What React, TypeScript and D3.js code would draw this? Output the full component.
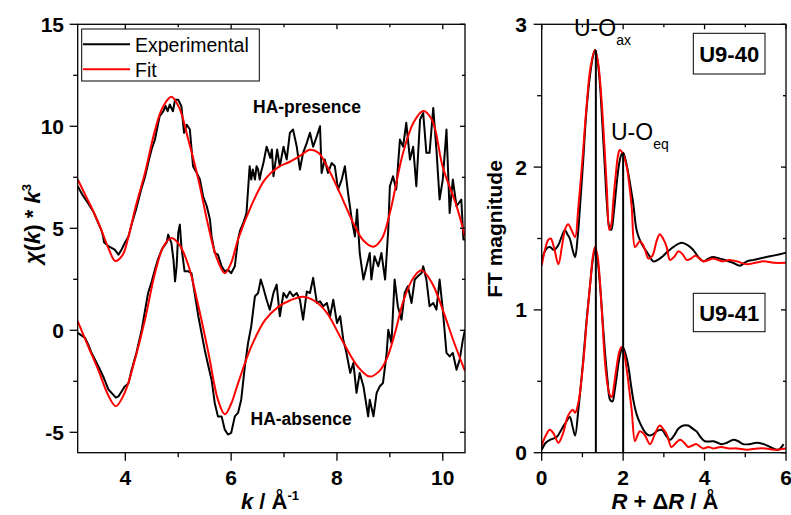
import React from 'react';
import * as d3 from 'd3';

type P = [number, number];

const kTicks = [4, 6, 8, 10];
const kMinor = [5, 7, 9];
const chiTicks = [-5, 0, 5, 10, 15];
const chiMinor = [-2.5, 2.5, 7.5, 12.5];
const rTicks = [0, 2, 4, 6];
const rMinor = [1, 3, 5];
const ftTicks = [0, 1, 2, 3];
const ftMinor = [0.5, 1.5, 2.5];

const presenceFit: P[] = [
  [3.1, 7.4], [3.25, 6.6], [3.4, 5.8], [3.55, 4.9], [3.7, 3.9], [3.81, 3.4], [3.95, 3.7], [4.06, 4.6],
  [4.2, 6.1], [4.37, 7.7], [4.56, 9.8], [4.7, 10.9], [4.87, 11.45], [5.02, 10.9], [5.19, 9.35], [5.38, 7.4],
  [5.57, 5.1], [5.72, 3.6], [5.88, 2.8], [6.0, 3.3], [6.13, 4.45], [6.38, 6.1], [6.64, 7.4], [6.89, 8.0],
  [7.1, 8.25], [7.3, 8.55], [7.49, 8.85], [7.65, 8.7], [7.8, 8.1], [8.06, 6.7], [8.31, 5.25], [8.5, 4.4],
  [8.69, 4.1], [8.85, 4.5], [9.0, 5.75], [9.25, 8.7], [9.45, 10.2], [9.63, 10.75], [9.8, 10.3], [10.0, 8.0],
  [10.26, 6.1], [10.42, 4.6],
];

const absenceFit: P[] = [
  [3.1, 0.45], [3.3, -0.8], [3.49, -1.95], [3.68, -3.2], [3.82, -3.72], [3.99, -3.05], [4.18, -1.45],
  [4.37, 0.5], [4.56, 2.8], [4.72, 4.1], [4.87, 4.52], [5.02, 4.2], [5.19, 3.2], [5.38, 1.2], [5.57, -1.1],
  [5.75, -3.4], [5.88, -4.12], [6.0, -3.6], [6.13, -2.6], [6.38, -0.8], [6.64, 0.5], [6.89, 1.15], [7.1, 1.45],
  [7.36, 1.65], [7.6, 1.4], [7.81, 0.85], [8.12, -0.6], [8.4, -1.8], [8.62, -2.27], [8.8, -2.0], [8.94, -1.4],
  [9.1, -0.1], [9.25, 1.4], [9.45, 2.6], [9.6, 2.94], [9.8, 2.3], [10.0, 1.0], [10.2, -0.5], [10.42, -2.0],
];

const presenceExp: P[] = [
  [3.1, 7.06], [3.2, 6.6], [3.29, 6.25], [3.4, 5.8], [3.49, 5.26], [3.55, 4.9], [3.58, 4.6], [3.6, 4.3],
  [3.65, 4.2], [3.68, 4.12], [3.74, 4.04], [3.8, 3.95], [3.87, 3.71], [3.93, 3.96], [3.99, 4.28], [4.06, 4.6],
  [4.12, 5.2], [4.2, 5.9], [4.3, 6.9], [4.37, 7.5], [4.45, 8.4], [4.5, 8.9], [4.56, 9.35], [4.61, 10.0],
  [4.65, 10.5], [4.72, 10.74], [4.76, 11.0], [4.8, 10.74], [4.84, 11.07], [4.9, 10.74], [4.94, 11.3], [5.0, 11.3],
  [5.06, 10.98], [5.11, 9.68], [5.16, 10.08], [5.22, 9.84], [5.28, 8.04], [5.35, 7.71], [5.41, 7.39], [5.47, 6.57],
  [5.54, 6.08], [5.6, 5.43], [5.63, 4.6], [5.69, 3.79], [5.75, 3.71], [5.82, 3.14], [5.88, 2.89], [5.94, 2.97],
  [6.0, 2.8], [6.07, 3.14], [6.13, 4.45], [6.17, 4.9], [6.23, 5.26], [6.29, 5.75], [6.32, 6.9], [6.35, 8.04],
  [6.38, 7.39], [6.41, 7.88], [6.45, 7.39], [6.48, 8.04], [6.51, 7.88], [6.54, 7.39], [6.57, 7.8], [6.61, 8.2],
  [6.67, 9.0], [6.7, 8.78], [6.74, 8.45], [6.77, 8.86], [6.8, 7.55], [6.87, 8.86], [6.92, 8.04], [6.99, 9.0],
  [7.05, 8.37], [7.11, 9.68], [7.17, 9.84], [7.24, 9.0], [7.3, 7.88], [7.36, 8.7], [7.43, 9.19], [7.49, 9.68],
  [7.55, 9.0], [7.62, 9.52], [7.68, 10.0], [7.71, 7.71], [7.77, 8.37], [7.83, 7.71], [7.9, 8.2], [7.96, 8.04],
  [8.02, 6.9], [8.09, 7.39], [8.15, 8.04], [8.21, 6.73], [8.28, 5.43], [8.34, 4.6], [8.38, 5.92], [8.43, 3.79],
  [8.5, 2.49], [8.56, 3.14], [8.62, 3.79], [8.65, 2.49], [8.71, 3.63], [8.78, 3.14], [8.84, 3.79], [8.91, 2.49],
  [8.97, 4.94], [9.0, 7.06], [9.06, 7.55], [9.12, 6.9], [9.19, 9.35], [9.25, 9.0], [9.31, 10.17], [9.38, 8.37],
  [9.44, 9.0], [9.5, 7.06], [9.57, 10.33], [9.63, 10.65], [9.69, 8.7], [9.75, 8.7], [9.82, 10.9], [9.88, 8.86],
  [9.94, 6.41], [10.0, 7.39], [10.07, 9.84], [10.13, 5.75], [10.19, 7.39], [10.26, 6.08], [10.35, 6.41],
  [10.39, 4.45], [10.42, 4.45],
];

const absenceExp: P[] = [
  [3.1, -0.13], [3.17, -0.25], [3.24, -0.37], [3.3, -0.7], [3.36, -1.1], [3.43, -1.45], [3.49, -1.76],
  [3.58, -2.25], [3.68, -2.9], [3.77, -3.15], [3.82, -3.3], [3.87, -3.24], [3.93, -3.0], [3.99, -2.75],
  [4.06, -2.6], [4.12, -1.93], [4.21, -1.1], [4.31, 0.03], [4.43, 1.83], [4.5, 2.4], [4.56, 2.98], [4.62, 3.5],
  [4.69, 3.96], [4.75, 4.2], [4.78, 4.3], [4.81, 4.69], [4.87, 4.28], [4.91, 3.47], [4.94, 2.4], [4.97, 3.14],
  [5.0, 4.77], [5.03, 5.18], [5.06, 4.1], [5.12, 2.89], [5.19, 2.89], [5.25, 2.8], [5.31, 1.83], [5.38, 0.69],
  [5.44, -0.13], [5.5, -0.95], [5.57, -1.76], [5.63, -2.42], [5.69, -3.56], [5.75, -4.22], [5.82, -4.22],
  [5.88, -4.87], [5.94, -5.11], [6.0, -5.03], [6.07, -4.22], [6.13, -4.05], [6.19, -3.4], [6.26, -1.76],
  [6.32, -0.62], [6.38, 0.2], [6.45, 1.67], [6.51, 1.83], [6.56, 2.49], [6.6, 2.16], [6.67, 1.5], [6.73, 1.01],
  [6.8, 1.83], [6.86, 2.24], [6.92, 0.69], [6.99, 1.83], [7.05, 1.6], [7.11, 1.9], [7.17, 1.67], [7.24, 1.83],
  [7.3, 1.5], [7.36, 0.52], [7.43, 1.9], [7.49, 1.83], [7.55, 2.57], [7.62, 1.34], [7.68, 1.42], [7.74, 1.18],
  [7.81, 1.34], [7.87, 0.69], [7.93, 1.5], [8.0, 0.36], [8.06, 0.69], [8.12, -0.46], [8.18, -1.11],
  [8.25, -2.09], [8.31, -1.6], [8.37, -3.07], [8.43, -2.09], [8.5, -2.74], [8.56, -3.73], [8.59, -4.22],
  [8.62, -3.4], [8.69, -4.22], [8.75, -3.07], [8.81, -2.74], [8.87, -2.58], [8.94, -1.11], [8.97, 0.03],
  [9.03, -0.62], [9.09, 2.49], [9.15, 1.18], [9.22, 0.52], [9.28, 1.83], [9.34, 2.16], [9.41, 1.34],
  [9.47, 2.49], [9.53, 2.65], [9.6, 2.81], [9.63, 3.14], [9.69, 2.49], [9.75, 1.18], [9.82, 1.34], [9.88, 1.01],
  [9.94, 2.49], [10.0, 1.01], [10.07, -1.11], [10.13, -1.28], [10.19, -1.11], [10.26, -1.93], [10.32, -1.44],
  [10.38, -0.46], [10.42, 0.03],
];

const u940Exp: P[] = [
  [0, 1.35], [0.12, 1.43], [0.2, 1.44], [0.3, 1.42], [0.4, 1.45], [0.5, 1.52], [0.57, 1.56], [0.63, 1.53],
  [0.69, 1.5], [0.76, 1.42], [0.82, 1.37], [0.88, 1.5], [0.94, 1.72], [1.02, 2.05], [1.1, 2.4], [1.19, 2.65],
  [1.27, 2.79], [1.31, 2.82], [1.37, 2.75], [1.43, 2.58], [1.49, 2.3], [1.55, 2.0], [1.6, 1.75], [1.66, 1.58],
  [1.71, 1.56], [1.77, 1.68], [1.84, 1.88], [1.9, 2.02], [1.96, 2.09], [2.0, 2.1], [2.06, 2.05], [2.13, 1.95],
  [2.19, 1.85], [2.25, 1.74], [2.33, 1.56], [2.41, 1.49], [2.5, 1.44], [2.62, 1.39], [2.74, 1.34], [2.85, 1.35],
  [2.95, 1.37], [3.1, 1.41], [3.23, 1.44], [3.44, 1.47], [3.6, 1.45], [3.72, 1.42], [3.85, 1.37], [3.97, 1.34],
  [4.1, 1.36], [4.21, 1.37], [4.36, 1.36], [4.5, 1.35], [4.7, 1.33], [4.87, 1.31], [5.04, 1.34], [5.2, 1.35],
  [5.36, 1.36], [5.52, 1.37], [5.69, 1.38], [5.85, 1.39], [6.0, 1.4],
];

const u940Fit: P[] = [
  [0, 1.31], [0.08, 1.42], [0.16, 1.49], [0.22, 1.5], [0.3, 1.44], [0.41, 1.32], [0.5, 1.45], [0.58, 1.57],
  [0.65, 1.6], [0.73, 1.56], [0.82, 1.51], [0.9, 1.72], [1.0, 2.05], [1.1, 2.42], [1.2, 2.7], [1.31, 2.82],
  [1.39, 2.72], [1.47, 2.47], [1.55, 2.1], [1.6, 1.85], [1.66, 1.56], [1.71, 1.6], [1.76, 1.77], [1.82, 1.95],
  [1.88, 2.09], [1.92, 2.12], [2.0, 2.09], [2.09, 2.0], [2.15, 1.88], [2.21, 1.72], [2.29, 1.44], [2.35, 1.46],
  [2.41, 1.48], [2.48, 1.46], [2.54, 1.42], [2.62, 1.36], [2.72, 1.38], [2.82, 1.48], [2.9, 1.53], [2.98, 1.5],
  [3.07, 1.44], [3.15, 1.35], [3.25, 1.37], [3.36, 1.41], [3.46, 1.39], [3.56, 1.35], [3.67, 1.36], [3.77, 1.38],
  [3.87, 1.36], [3.97, 1.34], [4.1, 1.35], [4.21, 1.36], [4.33, 1.35], [4.46, 1.34], [4.6, 1.35], [4.79, 1.34],
  [5.04, 1.32], [5.25, 1.33], [5.45, 1.34], [5.7, 1.33], [6.0, 1.33],
];

const u941Exp: P[] = [
  [0, 0.02], [0.1, 0.07], [0.2, 0.09], [0.37, 0.11], [0.5, 0.17], [0.61, 0.22], [0.69, 0.25], [0.76, 0.18],
  [0.82, 0.12], [0.9, 0.3], [1.02, 0.65], [1.1, 0.92], [1.19, 1.18], [1.26, 1.36], [1.31, 1.42], [1.37, 1.35],
  [1.43, 1.18], [1.49, 0.95], [1.55, 0.72], [1.62, 0.5], [1.68, 0.37], [1.74, 0.36], [1.79, 0.43], [1.84, 0.53],
  [1.92, 0.68], [1.99, 0.74], [2.06, 0.69], [2.13, 0.6], [2.19, 0.48], [2.25, 0.37], [2.33, 0.27], [2.41, 0.21],
  [2.5, 0.16], [2.58, 0.13], [2.66, 0.12], [2.74, 0.13], [2.82, 0.15], [2.95, 0.16], [3.05, 0.12], [3.15, 0.09],
  [3.25, 0.12], [3.36, 0.17], [3.48, 0.19], [3.6, 0.19], [3.7, 0.17], [3.8, 0.15], [3.9, 0.11], [4.01, 0.08],
  [4.21, 0.08], [4.32, 0.07], [4.42, 0.06], [4.55, 0.07], [4.71, 0.09], [4.83, 0.08], [4.95, 0.06], [5.1, 0.06],
  [5.28, 0.07], [5.45, 0.06], [5.61, 0.04], [5.81, 0.02], [5.94, 0.06],
];

const u941Fit: P[] = [
  [0, 0.05], [0.1, 0.12], [0.2, 0.16], [0.3, 0.13], [0.41, 0.07], [0.53, 0.14], [0.62, 0.24], [0.69, 0.28],
  [0.76, 0.3], [0.82, 0.28], [0.9, 0.35], [1.02, 0.63], [1.1, 0.9], [1.19, 1.18], [1.26, 1.38], [1.31, 1.44],
  [1.37, 1.38], [1.43, 1.2], [1.49, 0.93], [1.55, 0.65], [1.62, 0.47], [1.68, 0.4], [1.72, 0.39], [1.78, 0.48],
  [1.84, 0.6], [1.9, 0.7], [1.96, 0.74], [2.02, 0.7], [2.09, 0.58], [2.15, 0.44], [2.21, 0.3], [2.29, 0.08],
  [2.35, 0.12], [2.41, 0.15], [2.48, 0.14], [2.54, 0.12], [2.66, 0.06], [2.78, 0.13], [2.9, 0.19], [3.0, 0.16],
  [3.07, 0.13], [3.19, 0.04], [3.3, 0.07], [3.4, 0.09], [3.5, 0.07], [3.6, 0.04], [3.7, 0.05], [3.8, 0.06],
  [3.9, 0.04], [3.97, 0.03], [4.1, 0.04], [4.21, 0.03], [4.4, 0.04], [4.6, 0.03], [4.8, 0.03], [5.04, 0.02],
  [5.3, 0.03], [5.5, 0.03], [5.7, 0.02], [6.0, 0.03],
];

// marker lines: [R, peak height]
const shellMarkers: P[] = [[1.33, 2.82], [2.0, 2.1]];

const FONT = "'Liberation Sans', Arial, Helvetica, sans-serif";

export default function App() {
  const L = { x0: 77.7, x1: 465, y0: 24.3, y1: 452.7 };
  const Rp = { x0: 541.7, x1: 786, y0: 24.3, y1: 452.7 };
  const xk = d3.scaleLinear().domain([3.1, 10.42]).range([L.x0, L.x1]);
  const yc = d3.scaleLinear().domain([-6, 15]).range([L.y1, L.y0]);
  const xr = d3.scaleLinear().domain([0, 6]).range([Rp.x0, Rp.x1]);
  const yf = d3.scaleLinear().domain([0, 3]).range([Rp.y1, Rp.y0]);

  const lineKexp = d3.line<P>().x(d => xk(d[0])).y(d => yc(d[1]));
  const lineKfit = d3.line<P>().x(d => xk(d[0])).y(d => yc(d[1])).curve(d3.curveCatmullRom.alpha(0.5));
  const lineRexp = d3.line<P>().x(d => xr(d[0])).y(d => yf(d[1])).curve(d3.curveCatmullRom.alpha(0.5));
  const lineRfit = d3.line<P>().x(d => xr(d[0])).y(d => yf(d[1])).curve(d3.curveCatmullRom.alpha(0.5));

  const axisStroke = '#000';
  const tickLabel = { fontFamily: FONT, fontWeight: 700, fontSize: 21 } as React.CSSProperties;

  const frame = (p: typeof L) => (
    <rect x={p.x0} y={p.y0} width={p.x1 - p.x0} height={p.y1 - p.y0} fill="none" stroke={axisStroke} strokeWidth={1.3} />
  );

  const xTicks = (p: typeof L, sc: (v: number) => number, major: number[], minor: number[]) => (
    <g stroke={axisStroke} strokeWidth={1.3}>
      {major.map(v => <line key={'bM' + v} x1={sc(v)} x2={sc(v)} y1={p.y1} y2={p.y1 + 8} />)}
      {minor.map(v => <line key={'bm' + v} x1={sc(v)} x2={sc(v)} y1={p.y1} y2={p.y1 + 4.5} />)}
      {major.map(v => <line key={'tM' + v} x1={sc(v)} x2={sc(v)} y1={p.y0} y2={p.y0 + 5} />)}
      {minor.map(v => <line key={'tm' + v} x1={sc(v)} x2={sc(v)} y1={p.y0} y2={p.y0 + 3} />)}
    </g>
  );
  const yTicks = (p: typeof L, sc: (v: number) => number, major: number[], minor: number[]) => (
    <g stroke={axisStroke} strokeWidth={1.3}>
      {major.map(v => <line key={'lM' + v} y1={sc(v)} y2={sc(v)} x1={p.x0} x2={p.x0 - 8} />)}
      {minor.map(v => <line key={'lm' + v} y1={sc(v)} y2={sc(v)} x1={p.x0} x2={p.x0 - 4.5} />)}
      {major.map(v => <line key={'rM' + v} y1={sc(v)} y2={sc(v)} x1={p.x1} x2={p.x1 - 5} />)}
      {minor.map(v => <line key={'rm' + v} y1={sc(v)} y2={sc(v)} x1={p.x1} x2={p.x1 - 3} />)}
    </g>
  );

  return (
    <svg width={791} height={515} style={{ position: 'absolute', left: 0, top: 0, background: '#fff' }}>
      <defs>
        <clipPath id="clipL"><rect x={L.x0} y={L.y0} width={L.x1 - L.x0} height={L.y1 - L.y0} /></clipPath>
        <clipPath id="clipR"><rect x={Rp.x0} y={Rp.y0} width={Rp.x1 - Rp.x0} height={Rp.y1 - Rp.y0} /></clipPath>
      </defs>
      <rect x={0} y={0} width={791} height={515} fill="#fff" />

      {/* LEFT PANEL */}
      <g clipPath="url(#clipL)" fill="none" strokeLinejoin="round">
        <path d={lineKexp(presenceExp) || ''} stroke="#000" strokeWidth={2} />
        <path d={lineKexp(absenceExp) || ''} stroke="#000" strokeWidth={2} />
        <path d={lineKfit(presenceFit) || ''} stroke="#ff0000" strokeWidth={2} />
        <path d={lineKfit(absenceFit) || ''} stroke="#ff0000" strokeWidth={2} />
      </g>
      {frame(L)}
      {xTicks(L, xk, kTicks, kMinor)}
      {yTicks(L, yc, chiTicks, chiMinor)}
      {kTicks.map(v => (
        <text key={'kl' + v} x={xk(v)} y={485} textAnchor="middle" style={tickLabel}>{v}</text>
      ))}
      {chiTicks.map(v => (
        <text key={'cl' + v} x={64} y={yc(v) + 7.5} textAnchor="end" style={tickLabel}>{v}</text>
      ))}
      <text x={270} y={509} textAnchor="middle" style={{ fontFamily: FONT, fontWeight: 700, fontSize: 22 }}>
        <tspan fontStyle="italic">k</tspan> / Å<tspan fontSize={13} dy={-9}>-1</tspan>
      </text>
      <text transform="translate(40,224) rotate(-90)" textAnchor="middle" style={{ fontFamily: FONT, fontWeight: 700, fontSize: 22 }}>
        <tspan fontStyle="italic">χ</tspan>(<tspan fontStyle="italic">k</tspan>) * <tspan fontStyle="italic">k</tspan><tspan fontSize={13} dy={-9}>3</tspan>
      </text>

      {/* legend */}
      <rect x={81.7} y={29} width={177.6} height={52} fill="#fff" stroke="#000" strokeWidth={1} />
      <line x1={83} x2={130} y1={44.3} y2={44.3} stroke="#000" strokeWidth={2} />
      <line x1={83} x2={130} y1={69.3} y2={69.3} stroke="#ff0000" strokeWidth={2} />
      <text x={135} y={51.5} style={{ fontFamily: FONT, fontSize: 19.5 }}>Experimental</text>
      <text x={135} y={76.5} style={{ fontFamily: FONT, fontSize: 19.5 }}>Fit</text>

      <text x={253} y={112.5} style={{ fontFamily: FONT, fontWeight: 700, fontSize: 17.5 }}>HA-presence</text>
      <text x={250.5} y={425} style={{ fontFamily: FONT, fontWeight: 700, fontSize: 17.5 }}>HA-absence</text>

      {/* RIGHT PANEL */}
      <g clipPath="url(#clipR)" fill="none" strokeLinejoin="round">
        <path d={lineRexp(u940Exp) || ''} stroke="#000" strokeWidth={2} />
        <path d={lineRexp(u941Exp) || ''} stroke="#000" strokeWidth={2} />
        <path d={lineRfit(u940Fit) || ''} stroke="#ff0000" strokeWidth={2} />
        <path d={lineRfit(u941Fit) || ''} stroke="#ff0000" strokeWidth={2} />
      </g>
      {shellMarkers.map(m => (
        <line key={'sm' + m[0]} x1={xr(m[0])} x2={xr(m[0])} y1={yf(0)} y2={yf(m[1])} stroke="#000" strokeWidth={2} />
      ))}
      {frame(Rp)}
      {xTicks(Rp, xr, rTicks, rMinor)}
      {yTicks(Rp, yf, ftTicks, ftMinor)}
      {rTicks.map(v => (
        <text key={'rl' + v} x={xr(v)} y={485} textAnchor="middle" style={tickLabel}>{v}</text>
      ))}
      {ftTicks.map(v => (
        <text key={'fl' + v} x={527} y={yf(v) + 7.5} textAnchor="end" style={tickLabel}>{v}</text>
      ))}
      <text x={665} y={509} textAnchor="middle" style={{ fontFamily: FONT, fontWeight: 700, fontSize: 22 }}>
        <tspan fontStyle="italic">R</tspan> + Δ<tspan fontStyle="italic">R</tspan> / Å
      </text>
      <text transform="translate(501.5,229) rotate(-90)" textAnchor="middle" style={{ fontFamily: FONT, fontWeight: 700, fontSize: 21 }}>
        FT magnitude
      </text>

      <text x={574} y={36} style={{ fontFamily: FONT, fontSize: 23 }}>
        U-O<tspan fontSize={14} dy={9}>ax</tspan>
      </text>
      <text x={611} y={140} style={{ fontFamily: FONT, fontSize: 23 }}>
        U-O<tspan fontSize={14} dy={9}>eq</tspan>
      </text>

      <rect x={693.3} y={33.3} width={71.7} height={40.7} fill="#fff" stroke="#000" strokeWidth={1} />
      <text x={729.2} y={61.5} textAnchor="middle" style={{ fontFamily: FONT, fontWeight: 700, fontSize: 22 }}>U9-40</text>
      <rect x={693.3} y={293.3} width={71.7} height={38.4} fill="#fff" stroke="#000" strokeWidth={1} />
      <text x={729.2} y={320.5} textAnchor="middle" style={{ fontFamily: FONT, fontWeight: 700, fontSize: 22 }}>U9-41</text>
    </svg>
  );
}
